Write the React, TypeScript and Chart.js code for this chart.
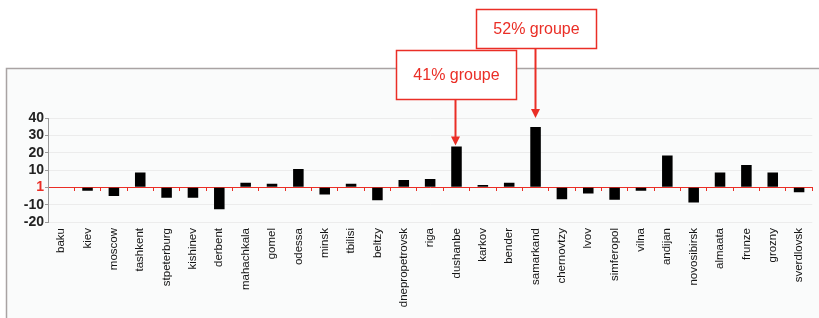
import React, { useEffect, useRef } from "react";
import { Chart, registerables } from "chart.js";

Chart.register(...registerables);

const cities = [
  "baku", "kiev", "moscow", "tashkent", "stpeterburg", "kishinev", "derbent",
  "mahachkala", "gomel", "odessa", "minsk", "tbilisi", "beltzy", "dnepropetrovsk",
  "riga", "dushanbe", "karkov", "bender", "samarkand", "chernovtzy", "lvov",
  "simferopol", "vilna", "andijan", "novosibirsk", "almaata", "frunze", "grozny",
  "sverdlovsk",
];

const values = [
  0, -2, -5, 8.5, -6, -6, -12.7,
  2.7, 2, 10.6, -4.2, 2, -7.5, 4.2,
  4.8, 23.5, 1.3, 2.7, 34.8, -6.9, -3.5,
  -7.1, -2, 18.3, -8.7, 8.5, 12.9, 8.5,
  -2.9,
];

const yTicks = [40, 30, 20, 10, 0, -10, -20];
const zeroLabel = "1";

const annotations = [
  { city: "dushanbe", text: "41% groupe", boxTop: 50, boxH: 49, boxW: 120, gap: 1 },
  { city: "samarkand", text: "52% groupe", boxTop: 9, boxH: 39, boxW: 120, gap: 9 },
];

const RED = "#ea2e26";

export default function App() {
  const ref = useRef<HTMLCanvasElement | null>(null);
  useEffect(() => {
    if (!ref.current) return;
    const framePlugin = {
      id: "frame",
      beforeDraw(chart: any) {
        const { ctx, width, height } = chart;
        ctx.save();
        ctx.fillStyle = "#ffffff";
        ctx.fillRect(0, 0, width, height);
        ctx.fillStyle = "#fafbfb";
        ctx.fillRect(6, 68, width - 6, height - 68);
        ctx.strokeStyle = "#a9a3a3";
        ctx.lineWidth = 1.5;
        ctx.beginPath();
        ctx.moveTo(6.5, height);
        ctx.lineTo(6.5, 68.5);
        ctx.lineTo(width, 68.5);
        ctx.stroke();
        ctx.restore();
      },
    };
    const annPlugin = {
      id: "ann",
      afterDraw(chart: any) {
        const { ctx } = chart;
        const xs = chart.scales.x;
        const ys = chart.scales.y;
        ctx.save();
        annotations.forEach((a) => {
          const i = cities.indexOf(a.city);
          const cx = xs.getPixelForValue(i);
          const top = ys.getPixelForValue(values[i]);
          const bx = Math.round(cx - a.boxW / 2) + 0.5;
          ctx.fillStyle = "#ffffff";
          ctx.fillRect(bx, a.boxTop + 0.5, a.boxW, a.boxH);
          ctx.strokeStyle = RED;
          ctx.lineWidth = 1.5;
          ctx.strokeRect(bx, a.boxTop + 0.5, a.boxW, a.boxH);
          ctx.fillStyle = RED;
          ctx.font = "16px Arial, 'Liberation Sans', sans-serif";
          ctx.textAlign = "center";
          ctx.textBaseline = "middle";
          ctx.fillText(a.text, bx + a.boxW / 2, a.boxTop + a.boxH / 2 + 1);
          const tip = top - a.gap;
          const ax = Math.round(cx) - 0.5;
          ctx.lineWidth = 2;
          ctx.beginPath();
          ctx.moveTo(ax, a.boxTop + a.boxH + 0.5);
          ctx.lineTo(ax, tip - 8);
          ctx.stroke();
          ctx.beginPath();
          ctx.moveTo(ax - 4.5, tip - 9);
          ctx.lineTo(ax + 4.5, tip - 9);
          ctx.lineTo(ax, tip);
          ctx.closePath();
          ctx.fill();
        });
        ctx.restore();
      },
    };
    const chart = new Chart(ref.current, {
      type: "bar",
      data: {
        labels: cities,
        datasets: [
          {
            data: values,
            backgroundColor: "#000000",
            borderWidth: 0,
            barPercentage: 0.4,
            categoryPercentage: 1,
          },
        ],
      },
      options: {
        animation: false,
        responsive: false,
        maintainAspectRatio: false,
        layout: { padding: { left: 0, right: 6, top: 118, bottom: 0 } },
        plugins: { legend: { display: false }, tooltip: { enabled: false } },
        scales: {
          x: {
            type: "category",
            offset: true,
            grid: { display: false, drawTicks: false },
            border: { display: false },
            afterFit(s: any) {
              s.height = 96;
            },
            ticks: {
              autoSkip: false,
              maxRotation: 90,
              minRotation: 90,
              padding: 6,
              color: "#151515",
              font: { family: "Arial, 'Liberation Sans', sans-serif", size: 11.5 },
            },
          },
          x2: {
            type: "category",
            position: { y: 0 } as any,
            offset: true,
            grid: { drawOnChartArea: false, color: RED, tickLength: 3, offset: true },
            border: { display: true, color: RED, width: 1 },
            ticks: { display: false },
          },
          y: {
            min: -20,
            max: 40,
            afterFit(s: any) {
              s.width = 48;
            },
            afterBuildTicks(s: any) {
              s.ticks = yTicks.map((v) => ({ value: v }));
            },
            grid: {
              color: (c: any) => (c.tick && c.tick.value === 0 ? "rgba(0,0,0,0)" : "#ececec"),
              tickColor: "#9a9a9a",
              tickLength: 3,
            },
            border: { display: true, color: "#9a9a9a" },
            ticks: {
              autoSkip: false,
              padding: 1,
              color: (c: any) => (c.tick && c.tick.value === 0 ? RED : "#222222"),
              font: { family: "Arial, 'Liberation Sans', sans-serif", size: 14, weight: "bold" },
              callback: (v: any) => (v === 0 ? zeroLabel : String(v)),
            },
          },
        },
      },
      plugins: [framePlugin, annPlugin],
    });
    return () => chart.destroy();
  }, []);
  return (
    <div style={{ position: "fixed", left: 0, top: 0, width: 819, height: 318 }}>
      <canvas ref={ref} width={819} height={318} style={{ width: 819, height: 318 }} />
    </div>
  );
}
